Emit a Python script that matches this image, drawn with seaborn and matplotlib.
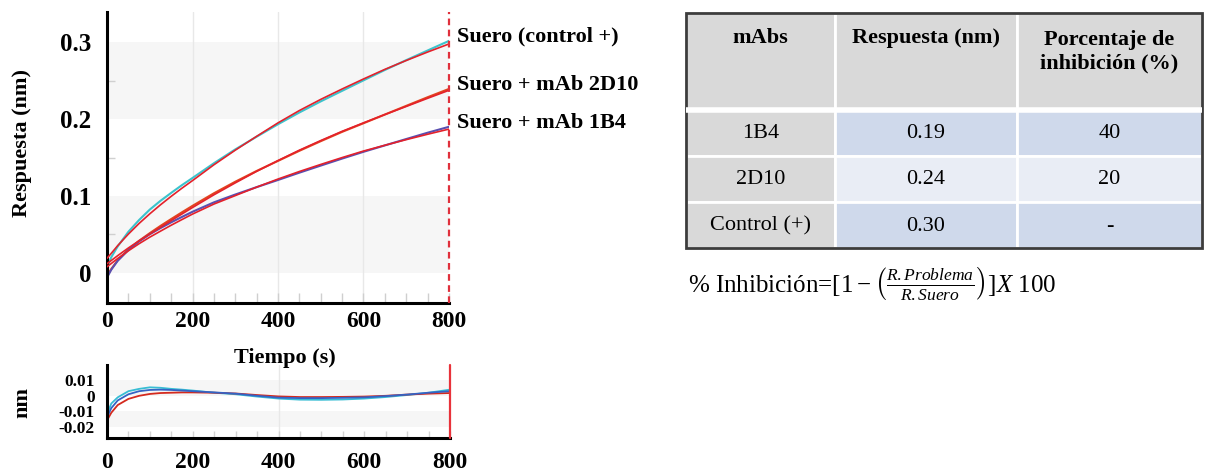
import matplotlib
matplotlib.use("Agg")
import matplotlib.pyplot as plt
import numpy as np
import pandas as pd
import seaborn as sns
from matplotlib.ticker import MultipleLocator, FixedLocator
from matplotlib.patches import Rectangle

# ---- sensorgram data (time in s, response in nm) ----
tiempo = [0, 10, 25, 50, 75, 100, 125, 150, 175, 200, 250, 300, 350, 400,
          450, 500, 550, 600, 650, 700, 750, 800]

crudo_control = [0.007, 0.0205, 0.0345, 0.0535, 0.0688, 0.0823, 0.0937, 0.104,
                 0.114, 0.1234, 0.1425, 0.1605, 0.177, 0.1932, 0.2085, 0.2229,
                 0.2366, 0.2502, 0.2637, 0.2765, 0.289, 0.3015]
crudo_2d10 = [-0.004, 0.0052, 0.0165, 0.0305, 0.0418, 0.0517, 0.0611, 0.070,
              0.0787, 0.0872, 0.1035, 0.1185, 0.1325, 0.1456, 0.1587, 0.1712,
              0.1833, 0.1945, 0.2058, 0.2171, 0.2283, 0.2391]
crudo_1b4 = [-0.006, 0.0043, 0.0158, 0.0298, 0.041, 0.0503, 0.0583, 0.0658,
             0.0727, 0.0795, 0.0917, 0.1019, 0.1115, 0.1208, 0.1303, 0.1395,
             0.1486, 0.1574, 0.1657, 0.174, 0.1822, 0.1899]

ajuste_control = [0.019, 0.0255, 0.0355, 0.0505, 0.0643, 0.0768, 0.0885, 0.0995,
                  0.110, 0.120, 0.1405, 0.1595, 0.1775, 0.195, 0.211, 0.2255,
                  0.239, 0.252, 0.2645, 0.276, 0.287, 0.2975]
ajuste_2d10 = [0.012, 0.0162, 0.0225, 0.0325, 0.0418, 0.0505, 0.0593, 0.068,
               0.0765, 0.085, 0.1015, 0.117, 0.132, 0.146, 0.1595, 0.172,
               0.184, 0.195, 0.2058, 0.2163, 0.2269, 0.2373]
ajuste_1b4 = [0.008, 0.0123, 0.0188, 0.0288, 0.038, 0.0465, 0.0543, 0.062,
              0.0693, 0.0765, 0.0895, 0.1005, 0.1115, 0.122, 0.1318, 0.141,
              0.1499, 0.1584, 0.1659, 0.1732, 0.1802, 0.1869]

# residuals of the fits (nm)
res_control = [-0.012, -0.005, -0.001, 0.003, 0.0045, 0.0055, 0.0052, 0.0045,
               0.004, 0.0034, 0.002, 0.001, -0.0005, -0.0018, -0.0025, -0.0026,
               -0.0024, -0.0018, -0.0008, 0.0005, 0.002, 0.004]
res_2d10 = [-0.016, -0.011, -0.006, -0.002, 0.0, 0.0012, 0.0018, 0.002,
            0.0022, 0.0022, 0.002, 0.0015, 0.0005, -0.0004, -0.0008, -0.0008,
            -0.0007, -0.0005, 0.0, 0.0008, 0.0014, 0.0018]
res_1b4 = [-0.014, -0.008, -0.003, 0.001, 0.003, 0.0038, 0.004, 0.0038,
           0.0034, 0.003, 0.0022, 0.0014, 0.0, -0.0012, -0.0015, -0.0015,
           -0.0013, -0.001, -0.0002, 0.0008, 0.002, 0.003]

series = ["Suero (control +)", "Suero + mAb 2D10", "Suero + mAb 1B4"]

# ---- table data ----
mabs = ["1B4", "2D10", "Control (+)"]
respuesta = [0.19, 0.24, 0.30]
inhibicion = [40, 20, None]
encabezados = ["mAbs", "Respuesta (nm)", "Porcentaje de\ninhibición (%)"]

# ---- styling ----
sns.set_theme(style="white")
plt.rcParams["font.family"] = ["Liberation Serif", "DejaVu Serif"]
plt.rcParams["text.color"] = "black"
plt.rcParams["axes.labelcolor"] = "black"
plt.rcParams["xtick.labelcolor"] = "black"
plt.rcParams["ytick.labelcolor"] = "black"
plt.rcParams["mathtext.fontset"] = "custom"
plt.rcParams["mathtext.rm"] = "Liberation Serif"
plt.rcParams["mathtext.it"] = "Liberation Serif:italic"
plt.rcParams["mathtext.bf"] = "Liberation Serif:bold"

col_crudo = {series[0]: "#3cc3cc", series[1]: "#e2451e", series[2]: "#5a4fb0"}
col_ajuste = {s: "#e4212b" for s in series}
col_res = {series[0]: "#38bdd4", series[1]: "#d42a1e", series[2]: "#3463c4"}

W, H = 1217, 476
fig = plt.figure(figsize=(W / 100, H / 100), dpi=100)


def frac_box(x0, y0, x1, y1):
    return [x0 / W, 1 - y1 / H, (x1 - x0) / W, (y1 - y0) / H]


def long_df(vals):
    rows = []
    for s, v in zip(series, vals):
        rows += [{"t": t, "y": y, "serie": s} for t, y in zip(tiempo, v)]
    return pd.DataFrame(rows)


df_crudo = long_df([crudo_control, crudo_2d10, crudo_1b4])
df_ajuste = long_df([ajuste_control, ajuste_2d10, ajuste_1b4])
df_res = long_df([res_control, res_2d10, res_1b4])

banda = "#f6f6f6"

# ---- main sensorgram ----
ax = fig.add_axes(frac_box(107, 12, 449, 303))
ax.set_xlim(0, 800)
ax.set_ylim(-0.039, 0.339)
for lo, hi in [(0.0, 0.1), (0.2, 0.3)]:
    ax.axhspan(lo, hi, color=banda, zorder=0, lw=0)
for xv in [200, 400, 600]:
    ax.axvline(xv, color="#e8e8e8", lw=1, zorder=0.5)

sns.lineplot(data=df_crudo, x="t", y="y", hue="serie", palette=col_crudo,
             legend=False, ax=ax, lw=1.5, zorder=2)
sns.lineplot(data=df_ajuste, x="t", y="y", hue="serie", palette=col_ajuste,
             legend=False, ax=ax, lw=1.2, zorder=3)
ax.axvline(800, color="#e0303c", lw=1.6, ls=(0, (3, 2)), clip_on=False, zorder=4)

for s, v in zip(series, [crudo_control, crudo_2d10, crudo_1b4]):
    ax.annotate(s, xy=(800, v[-1]), xytext=(6, 3), textcoords="offset points",
                va="center", ha="left", fontsize=16, fontweight="bold",
                color="black", annotation_clip=False)

ax.set_xlabel("")
ax.set_ylabel("")
for side in ["top", "right"]:
    ax.spines[side].set_visible(False)
for side in ["left", "bottom"]:
    ax.spines[side].set_color("black")
    ax.spines[side].set_linewidth(2.2)
ax.yaxis.set_major_locator(FixedLocator([0, 0.1, 0.2, 0.3]))
ax.yaxis.set_minor_locator(FixedLocator([0.05, 0.15, 0.25]))
ax.xaxis.set_major_locator(MultipleLocator(200))
ax.xaxis.set_minor_locator(MultipleLocator(50))
ax.set_yticklabels(["0", "0.1", "0.2", "0.3"])
ax.tick_params(axis="y", which="major", direction="out", length=9, width=2,
               color="black", labelcolor="black", pad=2, labelsize=18)
ax.tick_params(axis="y", which="minor", direction="in", length=6, width=1,
               color="#d0d0d0", left=True)
ax.tick_params(axis="x", which="both", direction="in", length=7, width=1,
               color="#cfcfcf", labelcolor="black", pad=6, labelsize=17,
               bottom=True)
for lab in ax.get_xticklabels() + ax.get_yticklabels():
    lab.set_fontweight("bold")

fig.text(22 / W, 1 - 143 / H, "Respuesta (nm)", rotation=90, ha="center",
         va="center", fontsize=16, fontweight="bold", color="black")
fig.text(285 / W, 1 - 358 / H, "Tiempo (s)", ha="center", va="center",
         fontsize=16, fontweight="bold", color="black")

# ---- residuals ----
rx = fig.add_axes(frac_box(107, 365, 450, 438))
rx.set_xlim(0, 800)
rx.set_ylim(-0.0274, 0.020)
for lo, hi in [(0.0, 0.01), (-0.02, -0.01)]:
    rx.axhspan(lo, hi, color=banda, zorder=0, lw=0)
rx.axvline(400, color="#e8e8e8", lw=1, zorder=0.5)
sns.lineplot(data=df_res, x="t", y="y", hue="serie", palette=col_res,
             legend=False, ax=rx, lw=1.3, zorder=2)
rx.axvline(800, color="#e8323a", lw=1.6, clip_on=False, zorder=4)
rx.set_xlabel("")
rx.set_ylabel("")
for side in ["top", "right"]:
    rx.spines[side].set_visible(False)
for side in ["left", "bottom"]:
    rx.spines[side].set_color("black")
    rx.spines[side].set_linewidth(2.2)
rx.yaxis.set_major_locator(FixedLocator([-0.02, -0.01, 0, 0.01]))
rx.set_yticklabels(["-0.02", "-0.01", "0", "0.01"])
rx.xaxis.set_major_locator(MultipleLocator(200))
rx.xaxis.set_minor_locator(MultipleLocator(50))
rx.tick_params(axis="y", which="major", direction="out", length=8, width=2,
               color="black", labelcolor="black", pad=1, labelsize=12.5)
rx.tick_params(axis="x", which="both", direction="in", length=5, width=1,
               color="#d4d4d4", labelcolor="black", pad=10, labelsize=17,
               bottom=True)
for lab in rx.get_xticklabels() + rx.get_yticklabels():
    lab.set_fontweight("bold")
fig.text(22 / W, 1 - 402 / H, "nm", rotation=90, ha="center", va="center",
         fontsize=16, fontweight="bold", color="black")

# ---- table ----
tax = fig.add_axes(frac_box(686, 13, 1202, 248))
col_w = [149, 182, 185]
row_h = [97, 46, 46, 46]
tax.set_xlim(0, sum(col_w))
tax.set_ylim(sum(row_h), 0)
tax.axis("off")

x_edges = np.concatenate([[0], np.cumsum(col_w)])
y_edges = np.concatenate([[0], np.cumsum(row_h)])

gris = "#d9d9d9"
azul = "#cfd9eb"
azul_claro = "#e9edf5"

filas = [[m, f"{r:.2f}", "-" if p is None else f"{p}"]
         for m, r, p in zip(mabs, respuesta, inhibicion)]

for j, h in enumerate(encabezados):
    tax.add_patch(Rectangle((x_edges[j], y_edges[0]), col_w[j], row_h[0],
                            facecolor=gris, edgecolor="white", lw=2))
    yc = 39 if "\n" in h else 25
    tax.text((x_edges[j] + x_edges[j + 1]) / 2, yc, h, ha="center", va="center",
             fontsize=16, fontweight="bold", linespacing=1.25, color="black")

for i, fila in enumerate(filas):
    for j, val in enumerate(fila):
        if j == 0:
            fc = gris
        else:
            fc = azul if i % 2 == 0 else azul_claro
        tax.add_patch(Rectangle((x_edges[j], y_edges[i + 1]), col_w[j],
                                row_h[i + 1], facecolor=fc, edgecolor="white",
                                lw=2))
        tax.text((x_edges[j] + x_edges[j + 1]) / 2,
                 (y_edges[i + 1] + y_edges[i + 2]) / 2 + 1, val,
                 ha="center", va="center", fontsize=16, color="black")

tax.plot([0, sum(col_w)], [y_edges[1], y_edges[1]], color="white", lw=4)
tax.add_patch(Rectangle((0, 0), sum(col_w), sum(row_h), facecolor="none",
                        edgecolor="#3c3c3c", lw=2, clip_on=False))

fig.text(688 / W, 1 - 283 / H,
         r"% Inhibición=$[1-\left(\frac{R.Problema}{R.Suero}\right)]X\ 100$",
         ha="left", va="center", fontsize=18, color="black")

fig.savefig("out.png", dpi=100)
